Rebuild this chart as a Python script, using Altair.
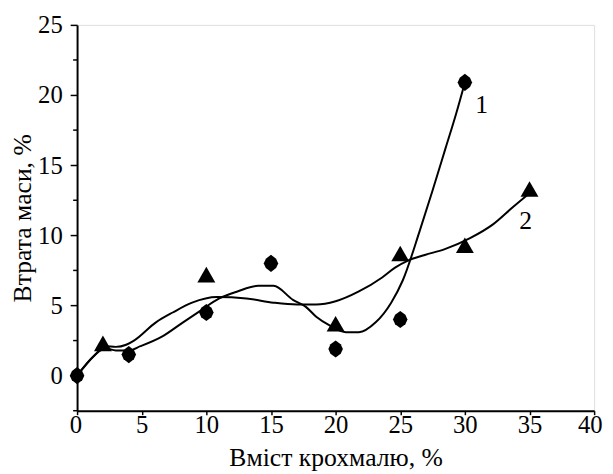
import altair as alt
import pandas as pd

# ---- measured points (markers) ----
s1_x = [0, 4, 10, 15, 20, 25, 30]
s1_y = [0, 1.5, 4.5, 8.0, 1.9, 4.0, 20.9]
s2_x = [2, 10, 20, 25, 30, 35]
s2_y = [2.3, 7.2, 3.7, 8.7, 9.3, 13.3]

# ---- smooth trend curves (traced) ----
c1_x = [0, 1.3, 2.2, 3.0, 4.0, 4.9, 6.6, 8.2, 9.5, 11.0, 12.4, 14.0, 15.2, 16.7,
        17.7, 18.5, 19.5, 20.8, 21.8, 23.1, 24.3, 25.2, 26.5, 27.5, 28.5, 29.3, 30.0]
c1_y = [0, 1.4, 1.95, 1.8, 1.8, 2.1, 2.8, 3.8, 4.6, 5.5, 6.0, 6.4, 6.4, 5.4,
        4.9, 4.2, 3.6, 3.1, 3.1, 3.8, 5.2, 6.8, 10.3, 13.2, 16.2, 18.6, 20.9]
c2_x = [0, 1.3, 2.2, 3.0, 3.8, 4.4, 6.1, 7.4, 8.9, 10.8, 13.1, 15.2, 17.0, 18.5,
        20.0, 21.8, 23.6, 24.6, 25.6, 26.9, 28.4, 30.4, 32.2, 33.7, 35.0]
c2_y = [0, 1.4, 2.1, 2.05, 2.2, 2.5, 3.8, 4.5, 5.2, 5.6, 5.5, 5.2, 5.07, 5.07,
        5.3, 6.0, 7.0, 7.7, 8.2, 8.6, 9.0, 9.8, 10.8, 12.0, 13.0]

# ---- curve labels ----
lab_text = ["1", "2"]
lab_x = [31.3, 34.7]
lab_y = [19.3, 11.05]

# ---- axes ----
x_ticks = [0, 2.5, 5, 7.5, 10, 12.5, 15, 17.5, 20, 22.5, 25, 27.5, 30, 32.5, 35, 37.5, 40]
y_major = [0, 5, 10, 15, 20, 25]
y_minor = [-2.5, 2.5, 7.5, 12.5, 17.5, 22.5]
x_title = "Вміст крохмалю, %"
y_title = "Втрата маси, %"

FONT = "Liberation Serif"

pts1 = pd.DataFrame({"x": s1_x, "y": s1_y})
pts2 = pd.DataFrame({"x": s2_x, "y": s2_y})
curves = pd.concat([
    pd.DataFrame({"x": c1_x, "y": c1_y, "s": "1", "o": range(len(c1_x))}),
    pd.DataFrame({"x": c2_x, "y": c2_y, "s": "2", "o": range(len(c2_x))}),
])
labels = pd.DataFrame({"x": lab_x, "y": lab_y, "t": lab_text})
minor = pd.DataFrame({"y": y_minor})

xs = alt.Scale(domain=[0, 40], nice=False, zero=False)
ys = alt.Scale(domain=[-2.5, 25], nice=False, zero=False)

x_axis = alt.Axis(
    values=x_ticks, labelExpr="datum.value % 5 === 0 ? datum.label : ''",
    grid=False, domainColor="black", domainWidth=2, tickColor="black", tickWidth=1.5,
    tickSize=4, labelFont=FONT, labelFontSize=25, labelColor="black", labelPadding=-2,
    title=x_title, titleFont=FONT, titleFontSize=26, titleFontWeight="normal",
    titleColor="black", titlePadding=8, labelFlush=True, labelFlushOffset=8,
    labelOverlap=False,
)
y_axis = alt.Axis(
    values=y_major, format="d",
    grid=False, domainColor="black", domainWidth=2, tickColor="black", tickWidth=1.5,
    tickSize=7, labelFont=FONT, labelFontSize=25, labelColor="black", labelPadding=8,
    title=y_title, titleFont=FONT, titleFontSize=26, titleFontWeight="normal",
    titleColor="black", titlePadding=2, labelFlush=False, labelOverlap=False,
)

lines = alt.Chart(curves).mark_line(color="black", strokeWidth=2, interpolate="monotone").encode(
    x=alt.X("x:Q", scale=xs, axis=x_axis),
    y=alt.Y("y:Q", scale=ys, axis=y_axis),
    detail="s:N",
    order="o:Q",
)

# minor ticks on the y axis (short, outward)
minor_ticks = alt.Chart(minor).mark_rule(color="black", strokeWidth=1.5).encode(
    y=alt.Y("y:Q", scale=ys),
    x=alt.value(-4),
    x2=alt.value(0),
)

diamond_path = "M0,-1L0.6,-0.55L0.85,0L0.6,0.55L0,1L-0.6,0.55L-0.85,0L-0.6,-0.55Z"
diamonds = alt.Chart(pts1).mark_point(
    shape=diamond_path, filled=True, color="black", size=300, opacity=1
).encode(x=alt.X("x:Q", scale=xs), y=alt.Y("y:Q", scale=ys))

triangles = alt.Chart(pts2).mark_point(
    shape="triangle-up", filled=True, color="black", size=330, opacity=1
).encode(x=alt.X("x:Q", scale=xs), y=alt.Y("y:Q", scale=ys))

texts = alt.Chart(labels).mark_text(
    font=FONT, fontSize=26, color="black", align="center", baseline="middle"
).encode(x=alt.X("x:Q", scale=xs), y=alt.Y("y:Q", scale=ys), text="t:N")

chart = alt.layer(lines, minor_ticks, diamonds, triangles, texts).properties(
    width=524, height=391,
    autosize=alt.AutoSizeParams(type="none"),
    padding={"left": 70, "top": 14, "right": 11, "bottom": 60},
).configure_view(stroke=None).configure(background="white")

chart.save("out.html", embed_options={"renderer": "svg", "actions": False})
